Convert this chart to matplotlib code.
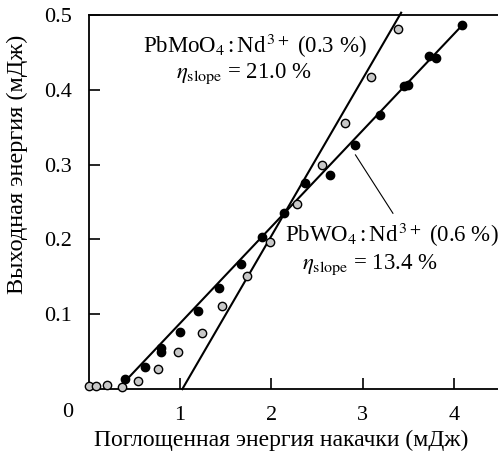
import matplotlib.pyplot as plt

plt.rcParams['font.family'] = ['Liberation Serif', 'DejaVu Serif']
plt.rcParams['mathtext.fontset'] = 'stix'

# PbWO4:Nd3+ (0.6 %) - black points
w_x = [0.40, 0.62, 0.79, 0.79, 1.00, 1.20, 1.43, 1.67, 1.90, 2.14, 2.37,
       2.64, 2.92, 3.19, 3.45, 3.50, 3.73, 3.80, 4.09]
w_y = [0.013, 0.030, 0.050, 0.055, 0.077, 0.105, 0.135, 0.167, 0.203, 0.236, 0.275,
       0.286, 0.326, 0.366, 0.405, 0.407, 0.445, 0.443, 0.487]

# PbMoO4:Nd3+ (0.3 %) - gray points
mo_x = [0.00, 0.08, 0.20, 0.36, 0.54, 0.76, 0.98, 1.24, 1.46, 1.73, 1.99,
        2.28, 2.55, 2.81, 3.09, 3.39]
mo_y = [0.004, 0.004, 0.006, 0.003, 0.011, 0.027, 0.049, 0.075, 0.111, 0.151, 0.196,
        0.247, 0.299, 0.356, 0.417, 0.481]

# fitted lines (endpoints)
w_fit_x = [0.38, 4.11]
w_fit_y = [0.008, 0.489]
mo_fit_x = [1.025, 3.42]
mo_fit_y = [0.0, 0.503]

fig = plt.figure(figsize=(4.98, 4.53), dpi=100)
ax = fig.add_axes([0.178, 0.141, 0.822, 0.826])

ax.plot(w_fit_x, w_fit_y, color='black', lw=1.5, clip_on=False, zorder=2)
ax.plot(mo_fit_x, mo_fit_y, color='black', lw=1.5, clip_on=False, zorder=2)
ax.plot(mo_x, mo_y, 'o', ms=6, mfc='#c8c8c8', mec='black', mew=1.0, clip_on=False, zorder=3)
ax.plot(w_x, w_y, 'o', ms=6, mfc='black', mec='black', clip_on=False, zorder=3)

# leader line to the PbWO4 label
ax.plot([2.92, 3.33], [0.313, 0.235], color='black', lw=0.8)

fs = 16.5
ax.text(1.82, 0.459, r'PbMoO$_4$$\,$:$\,$Nd$^{\,3+}$ (0.3 %)', fontsize=fs, ha='center', va='center')
ax.text(1.70, 0.422, r'$\eta_{\rm slope}$ = 21.0 %', fontsize=fs, ha='center', va='center')
ax.text(3.32, 0.206, r'PbWO$_4$$\,$:$\,$Nd$^{\,3+}$ (0.6 %)', fontsize=fs, ha='center', va='center')
ax.text(3.08, 0.166, r'$\eta_{\rm slope}$ = 13.4 %', fontsize=fs, ha='center', va='center')

ax.set_xlim(0, 4.48)
ax.set_ylim(0, 0.5)
ax.set_xticks([1, 2, 3, 4])
ax.set_yticks([0.1, 0.2, 0.3, 0.4, 0.5])
ax.set_yticklabels(['0.1', '0.2', '0.3', '0.4', '0.5'])
ax.tick_params(direction='in', length=8, width=1.2, labelsize=16, pad=12)
ax.text(-0.23, -0.031, '0', fontsize=16, ha='center', va='center')

ax.spines['right'].set_visible(False)
for s in ['left', 'bottom', 'top']:
    ax.spines[s].set_linewidth(1.3)

ax.set_xlabel('Поглощенная энергия накачки (мДж)', fontsize=17)
ax.set_ylabel('Выходная энергия (мДж)', fontsize=17.5)
ax.xaxis.set_label_coords(0.47, -0.108)
ax.yaxis.set_label_coords(-0.148, 0.60)

fig.savefig('out.png', dpi=100)
